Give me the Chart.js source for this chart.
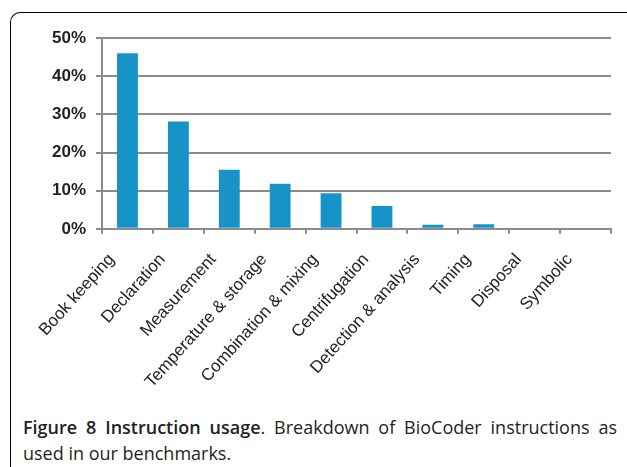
<!DOCTYPE html>
<html>
<head>
<meta charset="utf-8">
<script src="https://cdn.jsdelivr.net/npm/chart.js@4.4.0/dist/chart.umd.min.js"></script>
<style>
  html, body { margin: 0; padding: 0; background: #fff; }
  body { width: 627px; height: 467px; position: relative; overflow: hidden; }
  #frame {
    position: absolute; left: 10px; top: 12px; width: 640px; height: 480px;
    border-top: 1px solid #000; border-left: 1px solid #000;
    border-top-left-radius: 10px;
  }
  #wrap { position: absolute; left: 0; top: 0; width: 627px; height: 408px; }
  .cap {
    position: absolute; left: 23px; width: 594px; white-space: nowrap;
    font-family: "Open Sans", sans-serif; font-size: 18px; line-height: 26px;
    color: #231f20;
  }
  #cap1 { top: 414px; text-align: justify; text-align-last: justify; white-space: normal; }
  #cap2 { top: 440px; }
  .cap b { font-weight: 600; }
</style>
</head>
<body>
<div id="frame"></div>
<div id="wrap"><canvas id="chart"></canvas></div>
<div class="cap" id="cap1"><b>Figure 8 Instruction usage</b>. Breakdown of BioCoder instructions as</div>
<div class="cap" id="cap2">used in our benchmarks.</div>
<script>
// --- DATA ---
const categories = ['Book keeping', 'Declaration', 'Measurement', 'Temperature & storage',
  'Combination & mixing', 'Centrifugation', 'Detection & analysis', 'Timing', 'Disposal', 'Symbolic'];
const usage = [0.46, 0.281, 0.155, 0.118, 0.093, 0.06, 0.0105, 0.012, 0, 0];
const yTicks = [0, 0.1, 0.2, 0.3, 0.4, 0.5];

const axisGrey = '#8c8c8c';
const textColor = '#231f20';

new Chart(document.getElementById('chart'), {
  type: 'bar',
  data: {
    labels: categories,
    datasets: [{
      data: usage,
      backgroundColor: '#1793c8',
      barPercentage: 0.41,
      categoryPercentage: 1
    }]
  },
  options: {
    responsive: true,
    maintainAspectRatio: false,
    animation: false,
    layout: { padding: { top: 38, right: 16, left: 42, bottom: 0 } },
    plugins: { legend: { display: false }, tooltip: { enabled: false } },
    scales: {
      x: {
        grid: { display: true, offset: true, drawOnChartArea: false, drawTicks: true, tickLength: 5, color: axisGrey, lineWidth: 2 },
        border: { display: true, color: axisGrey, width: 2 },
        ticks: {
          color: textColor, minRotation: 48, maxRotation: 48, autoSkip: false,
          font: { family: 'Liberation Sans, Arial, sans-serif', size: 17 },
          padding: 16, labelOffset: -16
        }
      },
      y: {
        min: 0, max: 0.5,
        afterBuildTicks: (axis) => { axis.ticks = yTicks.map(v => ({ value: v })); },
        grid: { color: axisGrey, lineWidth: 2, drawTicks: true, tickLength: 6 },
        border: { display: true, color: axisGrey, width: 2 },
        ticks: {
          color: textColor, padding: 10,
          font: { family: 'Liberation Sans, Arial, sans-serif', size: 17, weight: 'bold' },
          callback: (v) => Math.round(v * 100) + '%'
        }
      }
    }
  }
});
</script>
</body>
</html>
